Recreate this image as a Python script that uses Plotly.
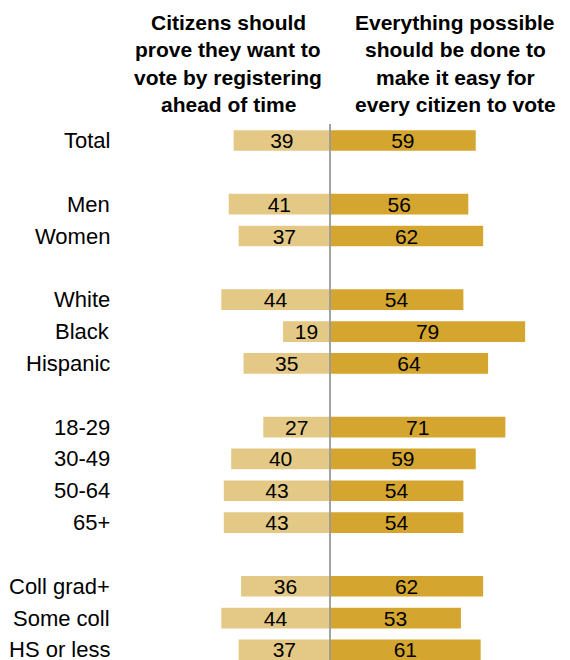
import plotly.graph_objects as go

categories = ["Total", "Men", "Women", "White", "Black", "Hispanic",
              "18-29", "30-49", "50-64", "65+", "Coll grad+", "Some coll", "HS or less"]
slots = [0, 2, 3, 5, 6, 7, 9, 10, 11, 12, 14, 15, 16]
register_first = [39, 41, 37, 44, 19, 35, 27, 40, 43, 43, 36, 44, 37]
make_easy = [59, 56, 62, 54, 79, 64, 71, 59, 54, 54, 62, 53, 61]
header_left = ["Citizens should", "prove they want to", "vote by registering", "ahead of time"]
header_right = ["Everything possible", "should be done to", "make it easy for", "every citizen to vote"]

OFF = 8                      # page body margin
W, H = 570 - OFF, 660 - OFF  # figure size
cx = 330.0 - OFF             # pixel of zero (figure coords)
sx = 2.47                    # px per percentage point
y0 = 140.5 - OFF             # pixel of slot 0
sy = 31.84                   # px per slot

xr = [-cx / sx, (W - cx) / sx]
yr = [(H - y0) / sy, -y0 / sy]


def px_x(p):
    return (p - OFF - cx) / sx


def px_y(p):
    return (p - OFF - y0) / sy


LEFT_C = "#E3C985"
RIGHT_C = "#D4A62F"
FONT = "Liberation Sans, Arial, sans-serif"

fig = go.Figure()
for vals, col, sign in [(register_first, LEFT_C, -1), (make_easy, RIGHT_C, 1)]:
    fig.add_trace(go.Bar(
        y=slots, x=[sign * v for v in vals], orientation="h",
        marker=dict(color=col, line=dict(width=0)), width=0.65,
        text=[str(v) for v in vals], textposition="inside",
        insidetextanchor="middle", constraintext="none",
        textfont=dict(size=21, color="#000", family=FONT),
        hoverinfo="skip", cliponaxis=False,
    ))

ann = []
for c, s in zip(categories, slots):
    ann.append(dict(x=px_x(112), y=s, text=c, showarrow=False, xanchor="right",
                    yanchor="middle", font=dict(size=22, color="#000", family=FONT)))

line_px = [22, 49.5, 77, 104]
for i, t in enumerate(header_left):
    ann.append(dict(x=px_x(228), y=px_y(line_px[i]), text="<b>" + t + "</b>",
                    showarrow=False, xanchor="center", yanchor="middle",
                    font=dict(size=21, color="#000", family=FONT)))
for i, t in enumerate(header_right):
    ann.append(dict(x=px_x(455), y=px_y(line_px[i]), text="<b>" + t + "</b>",
                    showarrow=False, xanchor="center", yanchor="middle",
                    font=dict(size=21, color="#000", family=FONT)))

fig.update_layout(
    width=W, height=H, margin=dict(l=0, r=0, t=0, b=0),
    paper_bgcolor="white", plot_bgcolor="white",
    barmode="relative", showlegend=False,
    xaxis=dict(range=xr, visible=False, fixedrange=True),
    yaxis=dict(range=yr, visible=False, fixedrange=True),
    annotations=ann,
    shapes=[dict(type="line", x0=0, x1=0, y0=px_y(124), y1=yr[0],
                 xref="x", yref="y", line=dict(color="#999999", width=1.8), layer="above")],
)

fig.write_html("out.html")
